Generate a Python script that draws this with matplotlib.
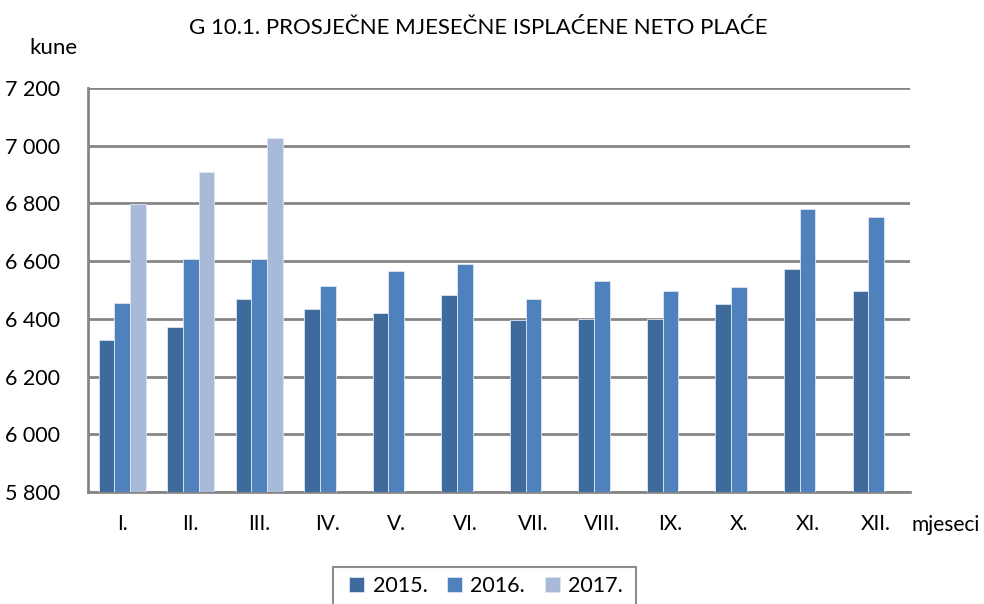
import numpy as np
import matplotlib
matplotlib.use("Agg")
import matplotlib.pyplot as plt
from matplotlib.patches import Rectangle

# ----------------------------
# Data (kune)
# ----------------------------
months = ["I.", "II.", "III.", "IV.", "V.", "VI.", "VII.", "VIII.", "IX.", "X.", "XI.", "XII."]
years = ["2015.", "2016.", "2017."]
v2015 = [6328, 6373, 6470, 6434, 6422, 6482, 6395, 6401, 6401, 6452, 6573, 6498]
v2016 = [6456, 6608, 6608, 6514, 6566, 6590, 6470, 6530, 6498, 6510, 6780, 6753]
v2017 = [6797, 6910, 7028, np.nan, np.nan, np.nan, np.nan, np.nan, np.nan, np.nan, np.nan, np.nan]

yticks = [5800, 6000, 6200, 6400, 6600, 6800, 7000, 7200]
ytick_labels = ["5 800", "6 000", "6 200", "6 400", "6 600", "6 800", "7 000", "7 200"]

colors = ["#3E6A9C", "#4F81BD", "#A9BAD8"]

plt.rcParams["font.family"] = ["Lato", "DejaVu Sans"]

# ----------------------------
# Plot
# ----------------------------
fig = plt.figure(figsize=(9.84, 6.04), dpi=100)
ax = fig.add_axes([0.0894, 0.1854, 0.8356, 0.6689])

x = np.arange(len(months))
w = 0.228
for i, (vals, c, lab) in enumerate(zip([v2015, v2016, v2017], colors, years)):
    ax.bar(x + (i - 1) * w, vals, width=w, color=c, edgecolor="#DCE6F2",
           linewidth=0.6, label=lab, zorder=3)

ax.set_xlim(-0.5, len(months) - 0.5)
ax.set_ylim(5800, 7200)
ax.set_yticks(yticks)
ax.set_yticklabels(ytick_labels, fontsize=15.5)
ax.set_xticks(x)
ax.set_xticklabels(months, fontsize=15)
ax.tick_params(axis="y", length=0, pad=20)
ax.tick_params(axis="x", length=0, pad=16)

ax.grid(axis="y", color="#868686", linewidth=2, zorder=0)
for s in ["top", "right"]:
    ax.spines[s].set_visible(False)
ax.spines["left"].set_color("#868686")
ax.spines["left"].set_linewidth(2)
ax.spines["bottom"].set_color("#868686")
ax.spines["bottom"].set_linewidth(2)

fig.text(0.486, 0.953, "G 10.1. PROSJEČNE MJESEČNE ISPLAĆENE NETO PLAĆE",
         ha="center", va="center", fontsize=16)
fig.text(0.030, 0.920, "kune", ha="left", va="center", fontsize=16)
fig.text(0.926, 0.130, "mjeseci", ha="left", va="center", fontsize=15)

# legend box (cut off by the bottom edge, as in the source)
fig.patches.append(Rectangle((333 / 984, -0.05), 303 / 984, 0.05 + 37 / 604,
                             transform=fig.transFigure, fill=False,
                             edgecolor="#8C8C8C", linewidth=1.5))
handles, labels = ax.get_legend_handles_labels()
fig.legend(handles, labels, loc="center", bbox_to_anchor=(486 / 984, 1 - 586 / 604),
           ncol=3, frameon=False, fontsize=15.5, handlelength=0.7, handleheight=0.7,
           handletextpad=0.4, columnspacing=0.9)

plt.savefig("out.png", dpi=100)
